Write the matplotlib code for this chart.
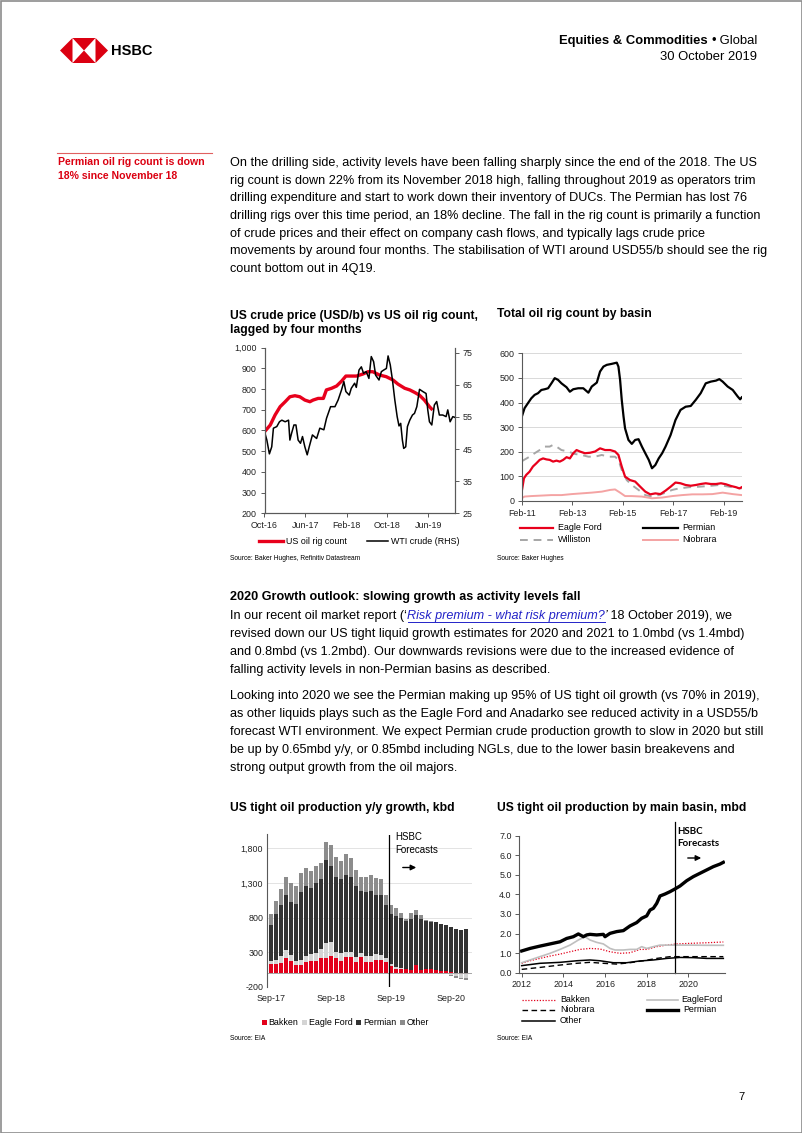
import matplotlib
matplotlib.use('Agg')
import matplotlib.pyplot as plt
from matplotlib.patches import Polygon, Rectangle
import numpy as np
import pandas as pd

W, H = 802, 1133
BODY = ['Liberation Sans', 'DejaVu Sans']
plt.rcParams['font.family'] = BODY

RED = '#db0011'
LINK = '#2323c8'
SMALL = 6.4

# ---------------- chart 1: WTI vs US oil rig count (lagged 4 months)
rig_dates = ['2016-10-01', '2016-11-04', '2016-12-03', '2017-01-02', '2017-02-01', '2017-03-01',
             '2017-03-31', '2017-04-29', '2017-05-29', '2017-06-28', '2017-07-17', '2017-08-16',
             '2017-09-16', '2017-10-04', '2017-11-04', '2017-12-04', '2018-01-03', '2018-01-28',
             '2018-03-02', '2018-04-01', '2018-05-10', '2018-06-09', '2018-07-07', '2018-08-16',
             '2018-09-25', '2018-11-04', '2018-12-04', '2019-01-13', '2019-02-12', '2019-03-13',
             '2019-04-10', '2019-05-10', '2019-06-09', '2019-06-28']
rig_count = [594, 626, 675, 715, 739, 763, 768, 763, 747, 739, 747, 755,
             755, 796, 804, 815, 839, 863, 863, 863, 873, 884, 884, 868,
             860, 844, 824, 804, 796, 784, 771, 747, 715, 699]

wti_dates = ['2016-10-01', '2016-10-15', '2016-10-30', '2016-11-13', '2016-11-23', '2016-12-13',
             '2016-12-29', '2017-01-12', '2017-02-01', '2017-02-21', '2017-03-01', '2017-03-11',
             '2017-03-25', '2017-04-06', '2017-04-19', '2017-05-03', '2017-05-15', '2017-05-29',
             '2017-06-12', '2017-06-24', '2017-07-13', '2017-08-07', '2017-08-26', '2017-09-19',
             '2017-10-05', '2017-10-29', '2017-11-24', '2017-12-13', '2018-01-02', '2018-01-16',
             '2018-01-28', '2018-02-17', '2018-03-01', '2018-03-21', '2018-03-31', '2018-04-16',
             '2018-04-30', '2018-05-13', '2018-05-29', '2018-06-14', '2018-06-28', '2018-07-12',
             '2018-07-24', '2018-08-13', '2018-08-27', '2018-09-10', '2018-09-26', '2018-10-06',
             '2018-10-19', '2018-11-01', '2018-11-15', '2018-11-29', '2018-12-10', '2018-12-20',
             '2018-12-30', '2019-01-07', '2019-01-19', '2019-01-29', '2019-02-12', '2019-02-28',
             '2019-03-12', '2019-03-26', '2019-04-11', '2019-05-01', '2019-05-20', '2019-05-30',
             '2019-06-09', '2019-06-23', '2019-07-08', '2019-07-22', '2019-08-07', '2019-08-27',
             '2019-09-16', '2019-09-26', '2019-10-10', '2019-10-26', '2019-11-05']
wti_price = [50.4, 47.8, 43.5, 45.7, 51.5, 52.0, 53.5, 54.0, 53.5, 54.0, 47.8, 49.9,
             52.5, 52.5, 47.8, 46.8, 48.9, 45.7, 43.2, 45.7, 49.4, 48.3, 51.5, 51.0,
             54.6, 58.2, 58.2, 60.3, 63.4, 66.0, 62.9, 61.8, 63.9, 65.5, 64.2, 69.6,
             70.6, 68.6, 69.1, 67.0, 73.8, 72.2, 68.0, 66.5, 69.1, 69.6, 70.1, 74.0,
             71.2, 66.5, 60.3, 55.1, 52.2, 53.0, 47.8, 45.2, 45.7, 52.0, 54.0, 55.6,
             56.1, 58.2, 63.6, 62.9, 62.3, 57.2, 53.5, 52.5, 58.7, 59.8, 55.6, 55.6,
             55.1, 57.2, 53.5, 55.1, 54.9]

# ---------------- chart 2: oil rig count by basin
permian_dates = ['2011-02-01', '2011-03-10', '2011-04-27', '2011-06-15', '2011-08-03', '2011-09-21',
                 '2011-11-08', '2011-12-27', '2012-02-14', '2012-04-02', '2012-05-20', '2012-07-07',
                 '2012-08-25', '2012-11-07', '2012-12-25', '2013-02-12', '2013-04-25', '2013-07-07',
                 '2013-09-19', '2013-11-07', '2014-01-19', '2014-03-07', '2014-04-25', '2014-06-12',
                 '2014-08-22', '2014-11-04', '2014-11-28', '2014-12-22', '2015-01-15', '2015-02-10',
                 '2015-03-04', '2015-04-22', '2015-06-10', '2015-07-28', '2015-09-15', '2015-11-03',
                 '2015-12-22', '2016-02-10', '2016-03-28', '2016-05-15', '2016-07-03', '2016-08-22',
                 '2016-10-10', '2016-12-22', '2017-03-03', '2017-05-15', '2017-07-28', '2017-10-10',
                 '2017-12-22', '2018-03-03', '2018-05-15', '2018-07-28', '2018-10-10', '2018-11-28',
                 '2019-01-15', '2019-03-28', '2019-06-10', '2019-08-22', '2019-09-25', '2019-10-18']
permian_rigs = [345, 377, 397, 417, 431, 438, 451, 454, 458, 478, 499, 492,
                478, 462, 444, 454, 458, 458, 440, 465, 481, 526, 546, 553,
                557, 562, 546, 492, 411, 343, 295, 248, 232, 248, 251, 221,
                194, 167, 133, 146, 173, 194, 221, 268, 329, 370, 383, 386,
                411, 438, 478, 485, 489, 495, 485, 465, 451, 424, 413, 421]

eagle_dates = ['2011-02-01', '2011-03-01', '2011-04-03', '2011-05-21', '2011-07-09', '2011-08-27',
               '2011-10-15', '2011-12-03', '2012-01-20', '2012-03-08', '2012-04-26', '2012-06-14',
               '2012-08-01', '2012-09-19', '2012-11-07', '2012-12-25', '2013-02-12', '2013-04-01',
               '2013-05-19', '2013-08-01', '2013-10-13', '2013-12-25', '2014-03-07', '2014-05-19',
               '2014-08-01', '2014-10-10', '2014-11-28', '2015-01-15', '2015-03-04', '2015-05-15',
               '2015-07-28', '2015-10-10', '2015-12-22', '2016-03-03', '2016-05-15', '2016-07-28',
               '2016-10-10', '2016-12-22', '2017-03-03', '2017-05-15', '2017-07-28', '2017-10-10',
               '2017-12-22', '2018-03-03', '2018-05-15', '2018-07-28', '2018-10-10', '2018-12-22',
               '2019-03-03', '2019-05-15', '2019-07-28', '2019-09-15', '2019-10-18']
eagle_rigs = [45, 92, 106, 119, 140, 153, 167, 173, 169, 167, 160, 164,
              160, 167, 178, 173, 194, 207, 201, 194, 196, 201, 214, 207,
              207, 201, 187, 140, 99, 85, 79, 58, 38, 27, 31, 28,
              42, 58, 75, 72, 65, 62, 65, 69, 72, 69, 69, 72,
              68, 61, 56, 51, 56]

williston_dates = ['2011-02-01', '2011-05-21', '2011-08-03', '2011-10-15', '2011-12-27', '2012-03-08',
                   '2012-04-26', '2012-06-14', '2012-08-25', '2012-12-01', '2013-03-07', '2013-06-13',
                   '2013-09-19', '2013-12-25', '2014-04-01', '2014-07-04', '2014-10-10', '2014-11-28',
                   '2015-01-15', '2015-03-28', '2015-06-10', '2015-09-15', '2015-12-22', '2016-03-28',
                   '2016-07-03', '2016-10-10', '2017-01-15', '2017-04-20', '2017-09-13', '2018-02-07',
                   '2018-07-01', '2018-11-25', '2019-04-19', '2019-10-18']
williston_rigs = [162, 180, 194, 207, 221, 221, 228, 221, 207, 201, 191, 187,
                  180, 180, 187, 180, 180, 167, 126, 85, 65, 45, 24, 18,
                  24, 34, 45, 51, 56, 58, 61, 65, 58, 51]

niobrara_dates = ['2011-02-01', '2011-03-09', '2011-06-15', '2011-11-08', '2012-04-01', '2012-08-25',
                  '2013-01-19', '2013-06-13', '2013-11-06', '2014-04-01', '2014-08-01', '2014-10-10',
                  '2014-12-22', '2015-03-04', '2015-06-10', '2015-11-03', '2016-03-28', '2016-08-22',
                  '2017-01-15', '2017-06-08', '2017-11-01', '2018-03-26', '2018-08-19', '2019-01-15',
                  '2019-06-10', '2019-10-18']
niobrara_rigs = [12, 18, 20, 22, 24, 24, 28, 31, 34, 38, 45, 47,
                 34, 20, 20, 18, 11, 14, 20, 24, 27, 27, 28, 34,
                 28, 24]

# ---------------- chart 3: tight oil y/y growth, kbd (Sep-17 .. Dec-20)
growth_months = pd.date_range('2017-09-01', '2020-12-01', freq='MS')
bakken = [126, 124, 138, 218, 174, 116, 116, 160, 175, 175, 208, 208,
          242, 208, 175, 228, 228, 155, 230, 160, 150, 190, 185, 160,
          100, 60, 60, 50, 40, 110, 40, 50, 50, 40, 30, 20, 10, 0, -10, -10]
eagle_ford = [40, 60, 100, 110, 90, 60, 70, 90, 100, 110, 130, 230,
              200, 90, 110, 80, 80, 80, 60, 90, 100, 80, 70, 60,
              30, 20, 10, 10, 0, 0, 0, 0, 0, 0, -10, -20, -30, -50, -60, -60]
permian = [524, 666, 737, 792, 766, 824, 989, 1010, 950, 1020, 1022, 1187,
           1098, 1092, 1065, 1112, 1082, 1015, 900, 920, 935, 850, 875, 760,
           720, 740, 720, 690, 740, 720, 740, 700, 690, 690, 680, 670, 660, 630, 620, 630]
other = [160, 190, 240, 270, 270, 260, 270, 260, 250, 240, 230, 270,
         310, 285, 270, 300, 270, 240, 200, 220, 230, 250, 230, 150,
         130, 120, 70, 30, 80, 80, 50, 10, 10, 10, 0, 0, -10, -20, -20, -30]
forecast_from = 23.55

# ---------------- chart 4: tight oil production by basin, mbd
perm_t = [2012.0, 2012.4, 2012.88, 2013.36, 2013.84, 2014.16, 2014.48, 2014.72, 2014.96, 2015.12,
          2015.28, 2015.6, 2015.92, 2016.0, 2016.24, 2016.56, 2016.88, 2017.2, 2017.52, 2017.76,
          2018.0, 2018.16, 2018.32, 2018.48, 2018.64, 2018.88, 2019.12, 2019.36, 2019.6, 2019.92,
          2020.24, 2020.56, 2020.88, 2021.2, 2021.52, 2021.68]
perm_prod = [1.11, 1.24, 1.36, 1.47, 1.58, 1.75, 1.84, 1.98, 1.84, 1.93,
             1.96, 1.93, 1.96, 1.84, 2.01, 2.10, 2.15, 2.39, 2.56, 2.78,
             2.90, 3.20, 3.29, 3.54, 3.92, 4.02, 4.14, 4.28, 4.43, 4.70,
             4.91, 5.08, 5.25, 5.42, 5.55, 5.64]
ef_t = [2012.0, 2012.4, 2012.88, 2013.36, 2013.84, 2014.32, 2014.72, 2015.04, 2015.28, 2015.6,
        2015.92, 2016.24, 2016.48, 2016.88, 2017.2, 2017.52, 2017.76, 2018.0, 2018.32, 2018.64,
        2018.96, 2019.36, 2020.08, 2020.88, 2021.68]
ef_prod = [0.51, 0.65, 0.82, 0.99, 1.19, 1.41, 1.67, 1.84, 1.67, 1.55,
           1.47, 1.24, 1.16, 1.16, 1.19, 1.19, 1.33, 1.24, 1.33, 1.41,
           1.41, 1.41, 1.41, 1.40, 1.40]
bak_t = [2012.0, 2012.4, 2012.88, 2013.36, 2013.84, 2014.32, 2014.8, 2015.28, 2015.76, 2016.24,
         2016.72, 2017.2, 2017.68, 2018.0, 2018.48, 2018.96, 2019.44, 2020.08, 2020.88, 2021.68]
bak_prod = [0.48, 0.61, 0.73, 0.85, 0.95, 1.07, 1.19, 1.24, 1.21, 1.07,
            0.99, 1.02, 1.19, 1.19, 1.33, 1.41, 1.47, 1.50, 1.53, 1.57]
nio_t = [2012.0, 2012.88, 2013.84, 2014.64, 2015.28, 2015.92, 2016.56, 2017.2, 2017.84, 2018.48,
         2019.12, 2019.76, 2020.4, 2021.04, 2021.68]
nio_prod = [0.17, 0.27, 0.39, 0.48, 0.53, 0.48, 0.44, 0.51, 0.61, 0.73,
            0.82, 0.82, 0.82, 0.82, 0.82]
oth_t = [2012.0, 2012.88, 2013.84, 2014.64, 2015.28, 2015.76, 2016.4, 2017.04, 2017.68, 2018.32,
         2018.96, 2019.6, 2020.24, 2020.88, 2021.68]
oth_prod = [0.36, 0.48, 0.53, 0.61, 0.65, 0.61, 0.51, 0.51, 0.60, 0.65,
            0.73, 0.78, 0.77, 0.73, 0.73]
prod_forecast = 2019.36

# ---------------- page text
sidebar = ['Permian oil rig count is down', '18% since November 18']
para1 = ['On the drilling side, activity levels have been falling sharply since the end of the 2018. The US',
         'rig count is down 22% from its November 2018 high, falling throughout 2019 as operators trim',
         'drilling expenditure and start to work down their inventory of DUCs. The Permian has lost 76',
         'drilling rigs over this time period, an 18% decline. The fall in the rig count is primarily a function',
         'of crude prices and their effect on company cash flows, and typically lags crude price',
         'movements by around four months. The stabilisation of WTI around USD55/b should see the rig',
         'count bottom out in 4Q19.']
heading2 = '2020 Growth outlook: slowing growth as activity levels fall'
para2 = ['revised down our US tight liquid growth estimates for 2020 and 2021 to 1.0mbd (vs 1.4mbd)',
         'and 0.8mbd (vs 1.2mbd). Our downwards revisions were due to the increased evidence of',
         'falling activity levels in non-Permian basins as described.']
para3 = ['Looking into 2020 we see the Permian making up 95% of US tight oil growth (vs 70% in 2019),',
         'as other liquids plays such as the Eagle Ford and Anadarko see reduced activity in a USD55/b',
         'forecast WTI environment. We expect Permian crude production growth to slow in 2020 but still',
         'be up by 0.65mbd y/y, or 0.85mbd including NGLs, due to the lower basin breakevens and',
         'strong output growth from the oil majors.']

fig = plt.figure(figsize=(W / 100, H / 100), dpi=100)
page = fig.add_axes([0, 0, 1, 1])
page.set_xlim(0, W)
page.set_ylim(H, 0)
page.axis('off')
page.set_zorder(10)
renderer = fig.canvas.get_renderer()


def box(l, t, r, b):
    return fig.add_axes([l / W, 1 - b / H, (r - l) / W, (b - t) / H])


def txt(x, y, s, size=9.1, **kw):
    kw.setdefault('va', 'center')
    return page.text(x, y, s, fontsize=size, **kw)


def right_edge(t):
    bb = t.get_window_extent(renderer)
    return page.transData.inverted().transform((bb.x1, bb.y0))[0]


def left_edge(t):
    bb = t.get_window_extent(renderer)
    return page.transData.inverted().transform((bb.x0, bb.y0))[0]


def style_axis(ax):
    for s in ax.spines.values():
        s.set_color('#595959')
        s.set_linewidth(0.8)
    ax.tick_params(labelsize=SMALL, colors='#595959', labelcolor='#222222', length=3, width=0.7, pad=2.5)


# page frame
page.add_patch(Rectangle((0.5, 0.5), W - 1, H - 1, fill=False, ec='#8c8c8c', lw=1.2))

# HSBC logo
ly0, ly1, lm = 38, 63, 50.5
page.add_patch(Polygon([(60, lm), (72.5, ly0), (72.5, ly1)], color=RED, lw=0))
page.add_patch(Polygon([(95.5, ly0), (108, lm), (95.5, ly1)], color=RED, lw=0))
page.add_patch(Polygon([(72.5, ly0), (95.5, ly0), (84, lm)], color=RED, lw=0))
page.add_patch(Polygon([(72.5, ly1), (95.5, ly1), (84, lm)], color=RED, lw=0))
txt(111, 51, 'HSBC', size=10.5, fontweight='bold')

# header
t = txt(757, 41, ' Global', size=9.4, ha='right')
dot = txt(left_edge(t), 41, '\u2022', size=9.4, ha='right')
txt(left_edge(dot), 41, 'Equities & Commodities ', size=9.4, ha='right', fontweight='bold')
txt(757, 57, '30 October 2019', size=9.4, ha='right')

# sidebar
page.plot([57, 212], [153, 153], color='#e06060', lw=0.8)
for i, s in enumerate(sidebar):
    txt(58, 162 + i * 13.6, s, size=7.6, color=RED, fontweight='bold')

for i, s in enumerate(para1):
    txt(230, 163.3 + i * 17.6, s)

txt(230, 597, heading2, fontweight='bold')
y = 615.5
t = txt(230, y, 'In our recent oil market report (\u2018')
x = right_edge(t)
lk = txt(x, y, 'Risk premium - what risk premium?', color=LINK, fontstyle='italic')
x2 = right_edge(lk)
page.plot([x + 1, x2], [y + 6.5, y + 6.5], color=LINK, lw=0.7)
t = txt(x2, y, '\u2019', fontstyle='italic')
txt(right_edge(t), y, ' 18 October 2019), we')
for i, s in enumerate(para2):
    txt(230, 633.5 + i * 18, s)
for i, s in enumerate(para3):
    txt(230, 696 + i * 18, s)

txt(745, 1097, '7', size=8, ha='right')

# ================= chart 1
txt(230, 316, 'US crude price (USD/b) vs US oil rig count,', size=8.7, fontweight='bold')
txt(230, 330, 'lagged by four months', size=8.7, fontweight='bold')
ax1 = box(264.5, 347.7, 455, 513.3)
ax1.plot(pd.to_datetime(rig_dates), rig_count, color='#e8001c', lw=2.4, solid_capstyle='butt')
ax1.set_ylim(200, 1000)
ax1.set_yticks(range(200, 1001, 100))
ax1.set_yticklabels([f'{v:,}' for v in range(200, 1001, 100)])
ax1.set_xlim(pd.Timestamp('2016-10-01'), pd.Timestamp('2019-11-08'))
t1 = pd.to_datetime(['2016-10-01', '2017-06-01', '2018-02-01', '2018-10-01', '2019-06-01'])
ax1.set_xticks(t1)
ax1.set_xticklabels([d.strftime('%b-%y') for d in t1])
ax1.spines['top'].set_visible(False)
style_axis(ax1)
ax1r = ax1.twinx()
ax1r.plot(pd.to_datetime(wti_dates), wti_price, color='black', lw=1.1)
ax1r.set_ylim(25, 76.56)
ax1r.set_yticks(range(25, 76, 10))
ax1r.spines['top'].set_visible(False)
style_axis(ax1r)
page.plot([259, 283], [541, 541], color='#e8001c', lw=2.4)
txt(286, 541, 'US oil rig count', size=SMALL)
page.plot([367, 388], [541, 541], color='black', lw=1.1)
txt(391, 541, 'WTI crude (RHS)', size=SMALL)
txt(230, 559, 'Source: Baker Hughes, Refinitiv Datastream', size=4.8)

# ================= chart 2
txt(497, 314, 'Total oil rig count by basin', size=8.7, fontweight='bold')
ax2 = box(522, 353.3, 742, 501)
ax2.plot(pd.to_datetime(williston_dates), williston_rigs, color='#a6a6a6', lw=1.4, ls=(0, (4, 3)))
ax2.plot(pd.to_datetime(niobrara_dates), niobrara_rigs, color='#f4a3a3', lw=1.4)
ax2.plot(pd.to_datetime(eagle_dates), eagle_rigs, color='#e8001c', lw=1.6)
ax2.plot(pd.to_datetime(permian_dates), permian_rigs, color='black', lw=1.6)
ax2.set_ylim(0, 600)
ax2.set_yticks(range(0, 601, 100))
ax2.grid(axis='y', color='#d9d9d9', lw=0.7)
ax2.set_axisbelow(True)
ax2.set_xlim(pd.Timestamp('2011-02-01'), pd.Timestamp('2019-10-22'))
t2 = pd.to_datetime(['2011-02-01', '2013-02-01', '2015-02-01', '2017-02-01', '2019-02-01'])
ax2.set_xticks(t2)
ax2.set_xticklabels([d.strftime('%b-%y') for d in t2])
for s in ['top', 'right']:
    ax2.spines[s].set_visible(False)
style_axis(ax2)
page.plot([520, 553], [528, 528], color='#e8001c', lw=1.6)
txt(558, 528, 'Eagle Ford', size=SMALL)
page.plot([643, 678], [528, 528], color='black', lw=1.6)
txt(682, 528, 'Permian', size=SMALL)
page.plot([520, 553], [540, 540], color='#a6a6a6', lw=1.4, ls=(0, (4, 3)))
txt(558, 540, 'Williston', size=SMALL)
page.plot([643, 678], [540, 540], color='#f4a3a3', lw=1.4)
txt(682, 540, 'Niobrara', size=SMALL)
txt(497, 559, 'Source: Baker Hughes', size=4.8)

# ================= chart 3
txt(230, 808, 'US tight oil production y/y growth, kbd', size=8.7, fontweight='bold')
ax3 = box(266.7, 834.5, 472, 986.7)
xi = np.arange(len(growth_months))
pos = np.zeros(len(xi))
neg = np.zeros(len(xi))
for vals, col in [(bakken, '#e3001b'), (eagle_ford, '#d4d4d4'), (permian, '#333333'), (other, '#8c8c8c')]:
    v = np.array(vals, dtype=float)
    base = np.where(v >= 0, pos, neg)
    ax3.bar(xi, v, 0.68, bottom=base, color=col, lw=0)
    pos += np.clip(v, 0, None)
    neg += np.clip(v, None, 0)
ax3.axhline(0, color='#a6a6a6', lw=0.7)
ax3.axvline(forecast_from, color='black', lw=0.9)
ax3.set_ylim(-200, 2000)
ax3.set_yticks(range(-200, 1801, 500))
ax3.set_yticklabels([f'{v:,}' for v in range(-200, 1801, 500)])
ax3.grid(axis='y', color='#e3e3e3', lw=0.7)
ax3.set_axisbelow(True)
ax3.set_xlim(-0.85, 40.2)
sep = [i for i, d in enumerate(growth_months) if d.month == 9]
ax3.set_xticks(sep)
ax3.set_xticklabels([growth_months[i].strftime('%b-%y') for i in sep])
for s in ['top', 'right', 'bottom']:
    ax3.spines[s].set_visible(False)
style_axis(ax3)
ax3.tick_params(axis='x', length=0, pad=5)
ax3.tick_params(axis='y', length=0)
txt(395, 837, 'HSBC', size=SMALL + 0.6)
txt(395, 850, 'Forecasts', size=SMALL + 0.6)
page.annotate('', xy=(419, 867.5), xytext=(400, 867.5),
              arrowprops=dict(arrowstyle='-|>', color='black', lw=1, mutation_scale=8))
lx = 261.5
for name, col in [('Bakken', '#e3001b'), ('Eagle Ford', '#d4d4d4'), ('Permian', '#333333'), ('Other', '#8c8c8c')]:
    page.add_patch(Rectangle((lx, 1020), 5, 5, color=col, lw=0))
    t = txt(lx + 7, 1022.5, name, size=SMALL)
    lx = right_edge(t) + 3.5
txt(230, 1039, 'Source: EIA', size=4.8)

# ================= chart 4
txt(497, 808, 'US tight oil production by main basin, mbd', size=8.7, fontweight='bold')
ax4 = box(519.3, 835.7, 725, 972.7)
ax4.plot(bak_t, bak_prod, color='#e3001b', lw=0.9, ls=(0, (1, 1.3)))
ax4.plot(ef_t, ef_prod, color='#bfbfbf', lw=1.2)
ax4.plot(nio_t, nio_prod, color='black', lw=1.0, ls=(0, (4, 2.5)))
ax4.plot(oth_t, oth_prod, color='black', lw=1.1)
ax4.plot(perm_t, perm_prod, color='black', lw=2.4)
ax4.axvline(prod_forecast, ymin=0, ymax=1.1, color='black', lw=0.9, clip_on=False)
ax4.set_ylim(0, 7)
ax4.set_yticks(np.arange(0, 7.1, 1.0))
ax4.set_yticklabels([f'{v:.1f}' for v in np.arange(0, 7.1, 1.0)])
ax4.set_xlim(2011.885, 2021.76)
ax4.set_xticks([2012, 2014, 2016, 2018, 2020])
ax4.set_xticklabels(['2012', '2014', '2016', '2018', '2020'])
for s in ['top', 'right']:
    ax4.spines[s].set_visible(False)
style_axis(ax4)
txt(677, 831, 'HSBC', size=7, family=['Lato', 'DejaVu Sans'], fontweight='bold')
txt(677, 844, 'Forecasts', size=7, family=['Lato', 'DejaVu Sans'], fontweight='bold')
page.annotate('', xy=(704, 858), xytext=(685, 858),
              arrowprops=dict(arrowstyle='-|>', color='black', lw=1, mutation_scale=8))
page.plot([522, 555], [999.5, 999.5], color='#e3001b', lw=0.9, ls=(0, (1, 1.3)))
txt(560, 999.5, 'Bakken', size=SMALL)
page.plot([647, 678], [999.5, 999.5], color='#bfbfbf', lw=1.2)
txt(681, 999.5, 'EagleFord', size=SMALL)
page.plot([522, 555], [1010, 1010], color='black', lw=1.0, ls=(0, (4, 2.5)))
txt(560, 1010, 'Niobrara', size=SMALL)
page.plot([647, 678], [1010, 1010], color='black', lw=2.4)
txt(683, 1010, 'Permian', size=SMALL)
page.plot([522, 555], [1020.5, 1020.5], color='black', lw=1.1)
txt(560, 1020.5, 'Other', size=SMALL)
txt(497, 1039, 'Source: EIA', size=4.8)

fig.savefig('out.png', dpi=100)
